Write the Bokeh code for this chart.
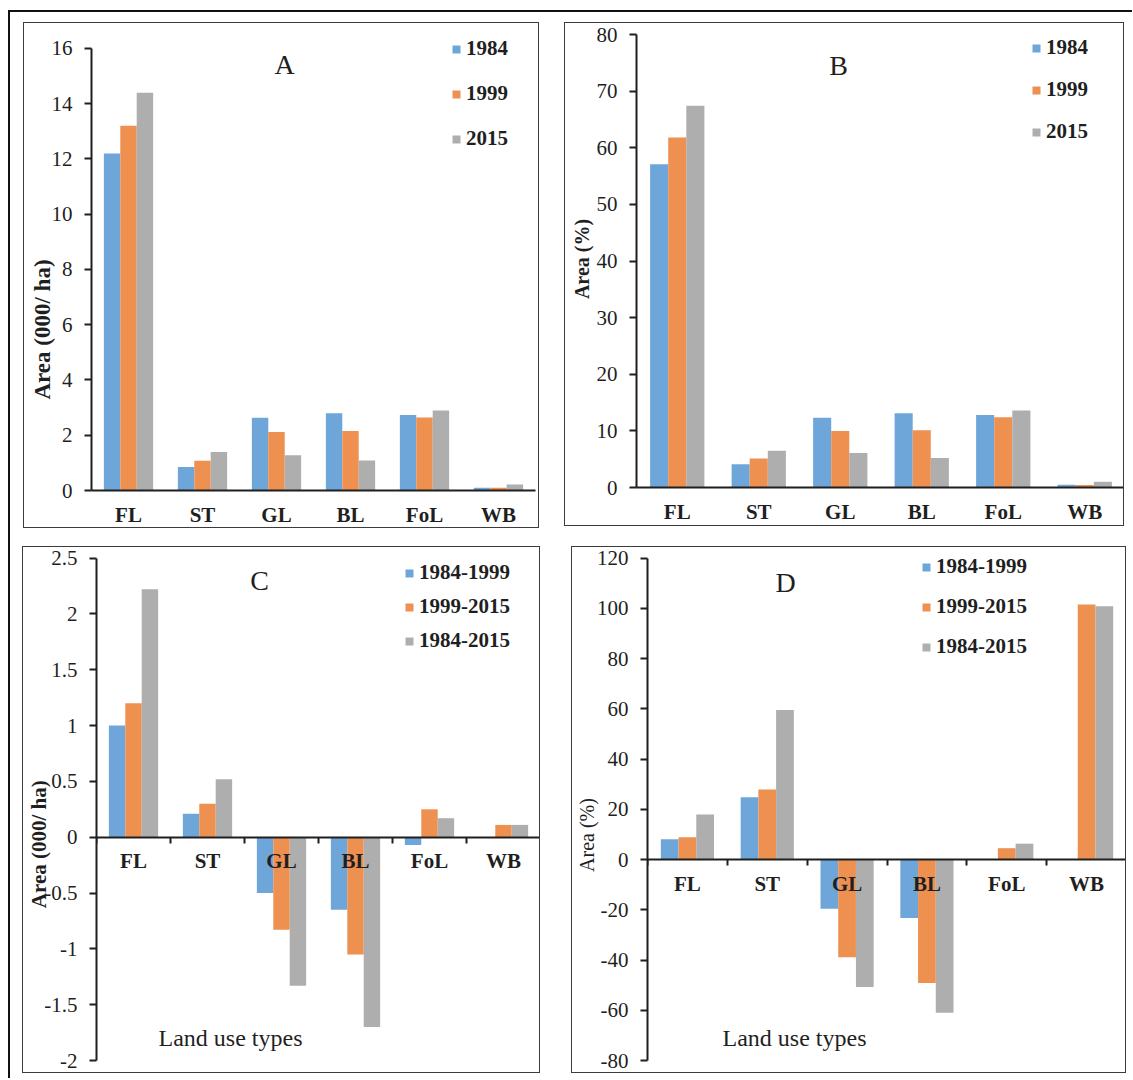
import math
from bokeh.plotting import figure
from bokeh.models import (FactorRange, Range1d, FixedTicker, LinearAxis, Legend,
                          LegendItem, Label, ColumnDataSource)
from bokeh.transform import dodge
from bokeh.layouts import row, column
from bokeh.embed import file_html
from bokeh.resources import INLINE

# ---------------- data ----------------
categories = ["FL", "ST", "GL", "BL", "FoL", "WB"]

years = ["1984", "1999", "2015"]
area_ha_1984 = [12.2, 0.85, 2.63, 2.8, 2.73, 0.1]
area_ha_1999 = [13.2, 1.08, 2.12, 2.15, 2.64, 0.1]
area_ha_2015 = [14.4, 1.39, 1.28, 1.09, 2.9, 0.22]

area_pct_1984 = [57.1, 4.1, 12.3, 13.1, 12.8, 0.5]
area_pct_1999 = [61.8, 5.1, 10.0, 10.1, 12.4, 0.45]
area_pct_2015 = [67.4, 6.5, 6.1, 5.2, 13.6, 1.0]

periods = ["1984-1999", "1999-2015", "1984-2015"]
change_ha_84_99 = [1.0, 0.21, -0.5, -0.65, -0.07, 0.0]
change_ha_99_15 = [1.2, 0.3, -0.83, -1.05, 0.25, 0.11]
change_ha_84_15 = [2.22, 0.52, -1.33, -1.7, 0.17, 0.11]

change_pct_84_99 = [8.1, 24.8, -19.6, -23.3, 0.0, 0.0]
change_pct_99_15 = [8.9, 27.9, -38.9, -49.2, 4.5, 101.5]
change_pct_84_15 = [17.9, 59.5, -50.7, -61.0, 6.3, 100.8]

ticks_A = [0, 2, 4, 6, 8, 10, 12, 14, 16]
tick_labels_A = ["0", "2", "4", "6", "8", "10", "12", "14", "16"]
ticks_B = [0, 10, 20, 30, 40, 50, 60, 70, 80]
tick_labels_B = ["0", "10", "20", "30", "40", "50", "60", "70", "80"]
ticks_C = [-2, -1.5, -1, -0.5, 0, 0.5, 1, 1.5, 2, 2.5]
tick_labels_C = ["-2", "-1.5", "-1", "-0.5", "0", "0.5", "1", "1.5", "2", "2.5"]
ticks_D = [-80, -60, -40, -20, 0, 20, 40, 60, 80, 100, 120]
tick_labels_D = ["-80", "-60", "-40", "-20", "0", "20", "40", "60", "80", "100", "120"]

# ---------------- style ----------------
COLORS = ["#6FA6DA", "#EE9050", "#AEAEAE"]
FONT = "Liberation Serif"
INK = "#1f1f1f"
NBSP = "\u00a0"


def make_panel(names, values, ticks, tick_labels, y_range, fw, fh, mb, margin,
               legend_xy, legend_spacing, letter, letter_xy, ylab, ylab_pad,
               ylab_standoff, ylab_size, ylab_style, zero_axis, land_xy=None):
    p = figure(x_range=FactorRange(*categories, range_padding=0),
               y_range=Range1d(*y_range), title=None,
               frame_width=fw, frame_height=fh,
               min_border_left=mb[0], min_border_right=mb[1],
               min_border_top=mb[2], min_border_bottom=mb[3],
               output_backend="svg", toolbar_location=None,
               background_fill_color="white", border_fill_color="white")
    p.outline_line_color = None
    p.grid.visible = False
    p.margin = margin
    p.styles = {"border": "1px solid #3c3c3c"}

    data = {"cat": categories}
    for i, v in enumerate(values):
        data["s%d" % i] = v
    src = ColumnDataSource(data)

    offsets = [-0.222, 0.0, 0.222]
    items = []
    for i, name in enumerate(names):
        r = p.vbar(x=dodge("cat", offsets[i], range=p.x_range), top="s%d" % i,
                   width=0.222, source=src, fill_color=COLORS[i], line_color=None)
        items.append(LegendItem(label=name, renderers=[r]))

    # y axis (ticks and numbers)
    ya = p.yaxis[0]
    ya.ticker = FixedTicker(ticks=ticks)
    ya.major_label_overrides = {t: l for t, l in zip(ticks, tick_labels)}
    ya.bounds = (ticks[0], ticks[-1])
    ya.axis_line_width = 2
    ya.axis_line_color = INK
    ya.major_tick_line_width = 2
    ya.major_tick_line_color = INK
    ya.major_tick_out = 7
    ya.major_tick_in = 0
    ya.minor_tick_line_color = None
    ya.major_label_standoff = 12
    ya.major_label_text_font = FONT
    ya.major_label_text_font_size = "21px"
    ya.major_label_text_color = INK

    # y axis title, carried by a bare axis stacked outside the numbered one
    # (trailing no-break spaces move the visible words down along the axis)
    la = LinearAxis(ticker=FixedTicker(ticks=[]),
                    axis_label=ylab + NBSP * ylab_pad,
                    axis_label_standoff=ylab_standoff)
    la.axis_line_color = None
    la.major_tick_out = 0
    la.major_tick_in = 0
    la.minor_tick_line_color = None
    la.major_tick_line_color = None
    la.axis_label_text_font = FONT
    la.axis_label_text_font_size = ylab_size
    la.axis_label_text_font_style = ylab_style
    la.axis_label_text_color = INK
    p.add_layout(la, "left")

    # categorical x axis (labels only)
    xa = p.xaxis[0]
    xa.axis_line_width = 2
    xa.axis_line_color = INK
    xa.major_tick_line_color = None
    xa.major_tick_out = 0
    xa.major_tick_in = 0
    xa.major_label_standoff = 12
    xa.major_label_text_font = FONT
    xa.major_label_text_font_style = "bold"
    xa.major_label_text_font_size = "21px"
    xa.major_label_text_color = INK
    if zero_axis:
        xa.fixed_location = 0

    # tick marks between categories
    ta = LinearAxis(ticker=FixedTicker(ticks=list(range(len(categories) + 1))),
                    fixed_location=0)
    ta.axis_line_color = None
    ta.major_tick_out = 6
    ta.major_tick_in = 0
    ta.major_tick_line_width = 2
    ta.major_tick_line_color = INK
    ta.minor_tick_line_color = None
    ta.major_label_overrides = {i: "" for i in range(len(categories) + 1)}
    ta.major_label_text_font_size = "0px"
    p.add_layout(ta, "below")

    legend = Legend(items=items, location=legend_xy, orientation="vertical",
                    spacing=legend_spacing, glyph_width=10, glyph_height=10,
                    label_height=20, label_standoff=5, padding=0, margin=0,
                    border_line_color=None, background_fill_alpha=0,
                    label_text_font=FONT, label_text_font_style="bold",
                    label_text_font_size="21px", label_text_color=INK)
    p.add_layout(legend, "center")

    p.add_layout(Label(x=letter_xy[0], y=letter_xy[1], x_units="screen", y_units="screen",
                       text=letter, text_font=FONT, text_font_size="28px",
                       text_color=INK, text_align="center", text_baseline="middle"))
    if land_xy is not None:
        p.add_layout(Label(x=land_xy[0], y=land_xy[1], x_units="screen", y_units="screen",
                           text="Land use types", text_font=FONT, text_font_size="24px",
                           text_color=INK, text_align="center", text_baseline="middle"))
    return p


pA = make_panel(years, [area_ha_1984, area_ha_1999, area_ha_2015], ticks_A, tick_labels_A,
                (0, 16.65), 442, 458, (67, 5, 7, 38), (10, 0, 0, 13),
                (360, 339), 20, "A", (193, 426), "Area (000/ ha)", 24, -6,
                "23px", "bold", False)
pB = make_panel(years, [area_pct_1984, area_pct_1999, area_pct_2015], ticks_B, tick_labels_B,
                (0, 80.71), 487, 455, (71, 0, 7, 40), (10, 7, 0, 25),
                (395, 343), 17, "B", (202, 422), "Area (%)", 0, 1,
                "20px", "bold", False)
pC = make_panel(periods, [change_ha_84_99, change_ha_99_15, change_ha_84_15], ticks_C, tick_labels_C,
                (-2, 2.532), 442, 504, (72, 1, 7, 14), (18, 0, 5, 12),
                (308, 407), 9, "C", (163, 480), "Area (000/ ha)", 14, -9,
                "21px", "bold", True, land_xy=(134, 23))
pD = make_panel(periods, [change_pct_84_99, change_pct_99_15, change_pct_84_15], ticks_D, tick_labels_D,
                (-80, 121.4), 477, 504, (75, 1, 7, 14), (18, 6, 5, 31),
                (274, 401), 15, "D", (138, 478), "Area (%)", 11, -4,
                "20px", "normal", True, land_xy=(147, 23))

layout = column(row(pA, pB), row(pC, pD))
layout.margin = (10, 0, 0, 8)
layout.styles = {"border-left": "2px solid #111111", "border-top": "2px solid #111111"}

open("out.html", "w").write(file_html(layout, INLINE))
